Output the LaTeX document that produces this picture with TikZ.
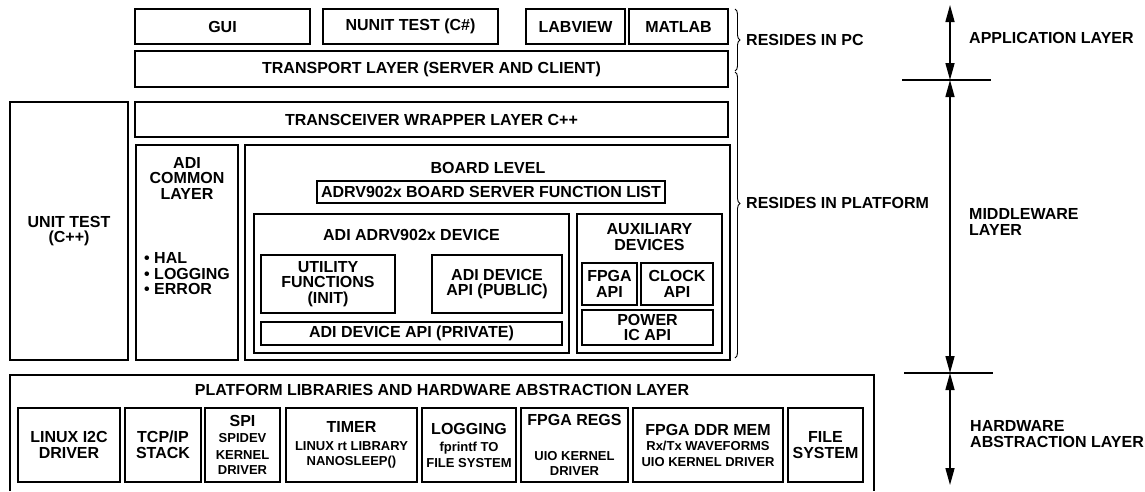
\documentclass[tikz,border=0pt]{standalone}
\usepackage{fontspec}
\setmainfont{Liberation Sans}
\usetikzlibrary{arrows.meta,decorations.pathreplacing}
\newcommand\Fbig{\fontsize{16}{15.5}\selectfont\bfseries}
\newcommand\Fsmall{\fontsize{13}{15.5}\selectfont\bfseries}
% \bx[opts]{name}{x1}{y1}{x2}{y2}{text}
\newcommand\bx[7][]{\node[blk,#1,minimum width={(#5-#3)*1pt},minimum height={(#6-#4)*1pt}] (#2) at ({(#3+#5)/2},{(#4+#6)/2}) {#7};}
\begin{document}
\begin{tikzpicture}[x=1pt,y=-1pt,
  blk/.style={draw, line width=1.6pt, inner sep=0pt, align=center, font=\Fbig},
  lbl/.style={inner sep=0pt, align=center, font=\Fbig},
  frame/.style={draw, line width=1.6pt},
  brc/.style={draw, line width=0.9pt, decorate},
  dimarrow/.style={line width=1.5pt, {Triangle[length=17pt,width=9pt]}-{Triangle[length=17pt,width=9pt]}},
  tick/.style={line width=1.3pt}]
\useasboundingbox (0,0) rectangle (1145,491);

% application layer boxes
\bx{gui}{135}{9}{310}{44}{GUI}
\bx{nunit}{323}{9}{498}{44}{\raisebox{-1.5pt}{NUNIT TEST (C\#)}}
\bx{labview}{526}{9}{625}{44}{LABVIEW}
\bx{matlab}{629}{9}{728}{44}{MATLAB}
\bx{transport}{135}{51}{728}{87}{\raisebox{-1.5pt}{TRANSPORT LAYER (SERVER AND CLIENT)}}

% middleware
\bx{wrapper}{135}{102}{728}{137}{TRANSCEIVER WRAPPER LAYER C++}
\bx{unittest}{10}{102}{128}{360}{UNIT TEST\\(C++)}
\bx{common}{136}{145}{238}{360}{}
\node[lbl] (commont) at (187,178) {ADI\\COMMON\\LAYER};
\node[lbl, align=left, anchor=west] (commonb) at (144,274) {\textbullet\ HAL\\\textbullet\ LOGGING\\\textbullet\ ERROR};
\bx{board}{245}{145}{730}{360}{}
\node[lbl] (boardt) at (488,168) {BOARD LEVEL};
\bx{bsfl}{317}{181}{665}{203}{ADRV902x BOARD SERVER FUNCTION LIST}
\bx{device}{254}{214}{569}{353}{}
\node[lbl] (devicet) at (411.5,235) {ADI ADRV902x DEVICE};
\bx{util}{261}{255}{395}{313}{UTILITY\\FUNCTIONS\\(INIT)}
\bx{public}{432}{255}{562}{313}{ADI DEVICE\\API (PUBLIC)}
\bx{private}{261}{322}{562}{345}{\raisebox{-1.5pt}{ADI DEVICE API (PRIVATE)}}
\bx{aux}{577}{214}{722}{353}{}
\node[lbl] (auxt) at (649.5,237) {AUXILIARY\\DEVICES};
\bx{fpgaapi}{582}{263}{637}{305}{FPGA\\API}
\bx{clockapi}{641}{263}{713}{305}{CLOCK\\API}
\bx{powerapi}{582}{310}{713}{345}{POWER\\IC API}

% hardware abstraction layer
\coordinate (hbl) at (10,491);
\coordinate (htl) at (10,375);
\coordinate (htr) at (874,375);
\coordinate (hbr) at (874,491);
\draw[frame] (hbl) -- (htl) -- (htr) -- (hbr);
\node[lbl] (halt) at (442,390) {PLATFORM LIBRARIES AND HARDWARE ABSTRACTION LAYER};
\bx{i2c}{18}{408}{120}{482}{LINUX I2C\\DRIVER}
\bx{tcp}{125}{408}{201}{482}{TCP/IP\\STACK}
\bx{spi}{205}{408}{280}{482}{SPI\\\Fsmall SPIDEV\\[1.5pt]\Fsmall KERNEL\\\Fsmall DRIVER}
\bx{timer}{286}{408}{417}{482}{TIMER\\[2pt]\Fsmall LINUX rt LIBRARY\\\Fsmall NANOSLEEP()}
\bx{logging}{422}{408}{516}{482}{LOGGING\\[2pt]\Fsmall fprintf TO\\\Fsmall FILE SYSTEM}
\bx{fpgaregs}{521}{408}{628}{482}{FPGA REGS\\[19pt]\Fsmall UIO KERNEL\\\Fsmall DRIVER}
\bx{ddr}{633}{408}{783}{482}{FPGA DDR MEM\\\Fsmall Rx/Tx WAVEFORMS\\\Fsmall UIO KERNEL DRIVER}
\bx{filesys}{788}{408}{863}{482}{FILE\\SYSTEM}

% braces
\coordinate (b1a) at (735,9);
\coordinate (b1b) at (735,71);
\coordinate (b2a) at (735,72);
\coordinate (b2b) at (735,358);
\draw[brc, decoration={brace, amplitude=5pt, aspect=0.5}] (b1a) -- (b1b);
\draw[brc, decoration={brace, amplitude=5pt, aspect=0.46}] (b2a) -- (b2b);
\node[lbl, anchor=west] (respc) at (746,40) {RESIDES IN PC};
\node[lbl, anchor=west] (resplat) at (746,203) {RESIDES IN PLATFORM};

% layer dimension arrows
\coordinate (a0) at (950,5);
\coordinate (a1) at (950,80);
\coordinate (a2) at (950,373);
\coordinate (a3) at (950,485);
\coordinate (t1l) at (902,80);
\coordinate (t1r) at (991,80);
\coordinate (t2l) at (904,373);
\coordinate (t2r) at (993,373);
\draw[dimarrow] (a0) -- (a1);
\draw[dimarrow] (a1) -- (a2);
\draw[dimarrow] (a2) -- (a3);
\draw[tick] (t1l) -- (t1r);
\draw[tick] (t2l) -- (t2r);
\node[lbl, anchor=west] (applayer) at (969,38) {APPLICATION LAYER};
\node[lbl, anchor=west, align=left] (midlayer) at (969,222) {MIDDLEWARE\\LAYER};
\node[lbl, anchor=west, align=left] (hwlayer) at (970,434) {HARDWARE\\ABSTRACTION LAYER};
\end{tikzpicture}
\end{document}
